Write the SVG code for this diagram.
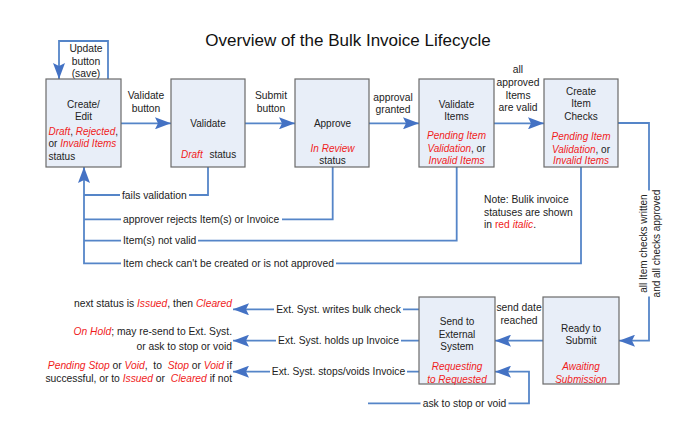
<svg xmlns="http://www.w3.org/2000/svg" width="687" height="427" viewBox="0 0 687 427">
<style>
text{font-family:"Liberation Sans",Arial,sans-serif;font-size:10.3px;fill:#222}
.title{font-size:17px;fill:#111}
.box{fill:#e8eef8;stroke:#6a6a6a;stroke-width:1.2}
.box ~ text{font-size:10px}
.ln{fill:none;stroke:#5585c8;stroke-width:1.8}
.bg{fill:#fff}
.r{fill:#f01c1c;font-style:italic}
.rn{fill:#f01c1c}
.mid{text-anchor:middle}
.end{text-anchor:end}
</style>
<defs>
<marker id="arr" markerWidth="16" markerHeight="12" refX="16" refY="6" orient="auto" markerUnits="userSpaceOnUse">
<path d="M0,0 L16,6 L0,12 L3,6 z" fill="#4472c4"/>
</marker>
</defs>
<rect width="687" height="427" fill="#fff"/>
<text class="title mid" x="348" y="46">Overview of the Bulk Invoice Lifecycle</text>

<g id="connectors">
<path class="ln" d="M108,79 V41 H59 V79" marker-end="url(#arr)"/>
<path class="ln" d="M121,123.3 H171" marker-end="url(#arr)"/>
<path class="ln" d="M245,123.3 H295" marker-end="url(#arr)"/>
<path class="ln" d="M369,123.3 H419" marker-end="url(#arr)"/>
<path class="ln" d="M494,123.3 H544" marker-end="url(#arr)"/>
<path class="ln" d="M618,123 H649 V340.7 H619" marker-end="url(#arr)"/>
<path class="ln" d="M208,167 V195 H84"/>
<path class="ln" d="M332.7,167 V219.3 H84"/>
<path class="ln" d="M456.7,167 V240.7 H84"/>
<path class="ln" d="M581,167 V263.3 H84 V167" marker-end="url(#arr)"/>
<path class="ln" d="M543,340.7 H495" marker-end="url(#arr)"/>
<path class="ln" d="M368,403.3 H529 V371.7 H495" marker-end="url(#arr)"/>
<path class="ln" d="M419,309.3 H233" marker-end="url(#arr)"/>
<path class="ln" d="M419,340.7 H233" marker-end="url(#arr)"/>
<path class="ln" d="M419,371.7 H233" marker-end="url(#arr)"/>

<text class="mid" x="86" y="52">Update</text>
<text class="mid" x="86" y="64.5">button</text>
<text class="mid" x="86" y="77">(save)</text>
<text class="mid" x="146" y="99">Validate</text>
<text class="mid" x="146" y="112">button</text>
<text class="mid" x="271" y="99">Submit</text>
<text class="mid" x="271" y="112">button</text>
<text class="mid" x="393" y="100.5">approval</text>
<text class="mid" x="393" y="113">granted</text>
<text class="mid" x="518" y="73">all</text>
<text class="mid" x="518" y="86">approved</text>
<text class="mid" x="518" y="98.5">Items</text>
<text class="mid" x="518" y="111">are valid</text>
<g transform="translate(649,243.5) rotate(-90)">
<rect class="bg" x="-53" y="-13" width="106" height="28"/>
<text class="mid" x="0" y="-2.5" style="font-size:10px">all Item checks written</text>
<text class="mid" x="0" y="11" style="font-size:10px">and all checks approved</text>
</g>
<rect class="bg" x="120" y="189" width="69" height="12"/>
<text x="122" y="198.5">fails validation</text>
<rect class="bg" x="121" y="213" width="161" height="12"/>
<text x="123" y="222.8">approver rejects Item(s) or Invoice</text>
<rect class="bg" x="121" y="234.5" width="77" height="12"/>
<text x="123" y="244.2">Item(s) not valid</text>
<rect class="bg" x="121" y="257" width="215" height="12"/>
<text x="123" y="266.8">Item check can't be created or is not approved</text>
<text class="mid" x="519" y="310.5">send date</text>
<text class="mid" x="519" y="323.5">reached</text>
<rect class="bg" x="420.5" y="397" width="88" height="12"/>
<text class="mid" x="464.5" y="406.8">ask to stop or void</text>
<rect class="bg" x="274" y="303" width="129" height="12"/>
<text class="mid" x="338.5" y="312.8">Ext. Syst. writes bulk check</text>
<rect class="bg" x="276" y="334.5" width="125" height="12"/>
<text class="mid" x="338.5" y="344.2">Ext. Syst. holds up Invoice</text>
<rect class="bg" x="270" y="365.5" width="137" height="12"/>
<text class="mid" x="338.5" y="375.2">Ext. Syst. stops/voids Invoice</text>
</g>

<g id="outcomes">
<text class="end" x="232" y="307" xml:space="preserve">next status is <tspan class="r">Issued</tspan>, then <tspan class="r">Cleared</tspan></text>
<text class="end" x="232" y="335"><tspan class="r">On Hold</tspan>; may re-send to Ext. Syst.</text>
<text class="end" x="232" y="349.5">or ask to stop or void</text>
<text class="end" x="232" y="369" xml:space="preserve"><tspan class="r">Pending Stop</tspan> or <tspan class="r">Void</tspan>,  to  <tspan class="r">Stop</tspan> or <tspan class="r">Void</tspan> if</text>
<text class="end" x="232" y="382" xml:space="preserve">successful, or to <tspan class="r">Issued</tspan> or  <tspan class="r">Cleared</tspan> if not</text>
</g>

<g id="note">
<text x="484" y="203">Note: Bulik invoice</text>
<text x="484" y="215.5">statuses are shown</text>
<text x="484" y="227.5">in <tspan class="rn">red</tspan> <tspan class="r">italic</tspan>.</text>
</g>

<g id="node-create-edit">
<rect class="box" x="46" y="79" width="75" height="88"/>
<text class="mid" x="83.5" y="107.5">Create/</text>
<text class="mid" x="83.5" y="119.5">Edit</text>
<text x="48.5" y="135"><tspan class="r">Draft</tspan>, <tspan class="r">Rejected</tspan>,</text>
<text x="48.5" y="147">or <tspan class="r">Invalid Items</tspan></text>
<text x="48.5" y="160">status</text>
</g>

<g id="node-validate">
<rect class="box" x="171" y="79" width="74" height="88"/>
<text class="mid" x="208" y="127">Validate</text>
<text x="181" y="158"><tspan class="r">Draft</tspan></text>
<text x="209.5" y="158">status</text>
</g>

<g id="node-approve">
<rect class="box" x="295" y="79" width="74" height="88"/>
<text class="mid" x="332.5" y="127">Approve</text>
<text class="mid r" x="332.5" y="152">In Review</text>
<text class="mid" x="332.5" y="163.5">status</text>
</g>

<g id="node-validate-items">
<rect class="box" x="419" y="79" width="75" height="88"/>
<text class="mid" x="456.5" y="107.5">Validate</text>
<text class="mid" x="456.5" y="119.5">Items</text>
<text class="mid r" x="456.5" y="139">Pending Item</text>
<text class="mid" x="456.5" y="152"><tspan class="r">Validation</tspan>, or</text>
<text class="mid r" x="456.5" y="163.5">Invalid Items</text>
</g>

<g id="node-create-item-checks">
<rect class="box" x="544" y="79" width="74" height="88"/>
<text class="mid" x="581" y="95">Create</text>
<text class="mid" x="581" y="107">Item</text>
<text class="mid" x="581" y="119.5">Checks</text>
<text class="mid r" x="581" y="140">Pending Item</text>
<text class="mid" x="581" y="153"><tspan class="r">Validation</tspan>, or</text>
<text class="mid r" x="581" y="164">Invalid Items</text>
</g>

<g id="node-send-external">
<rect class="box" x="419" y="297" width="76" height="87"/>
<text class="mid" x="457" y="325">Send to</text>
<text class="mid" x="457" y="337.5">External</text>
<text class="mid" x="457" y="349.5">System</text>
<text class="mid r" x="457" y="370">Requesting</text>
<text class="mid r" x="457" y="382.5">to Requested</text>
</g>

<g id="node-ready-submit">
<rect class="box" x="543" y="297" width="76" height="87"/>
<text class="mid" x="581" y="332">Ready to</text>
<text class="mid" x="581" y="344">Submit</text>
<text class="mid r" x="581" y="370">Awaiting</text>
<text class="mid r" x="581" y="382.5">Submission</text>
</g>
</svg>
